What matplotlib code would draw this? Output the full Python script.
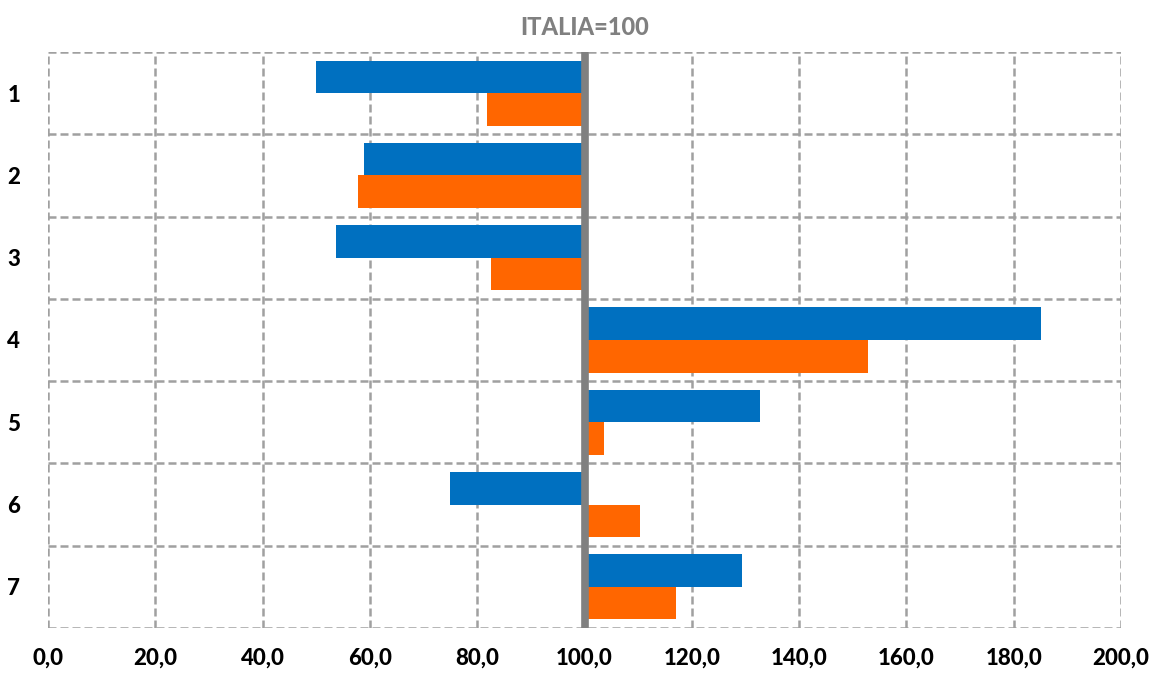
import matplotlib

matplotlib.use("Agg")
import matplotlib.pyplot as plt
import numpy as np

# values (ITALIA = 100)
categories = ["1", "2", "3", "4", "5", "6", "7"]
serie_blu = [50.0, 58.9, 53.7, 185.1, 132.7, 74.9, 129.4]
serie_arancio = [81.8, 57.8, 82.6, 152.8, 103.6, 110.3, 117.1]
xticks = np.arange(0, 201, 20)
base = 100.0

plt.rcParams["font.family"] = ["Lato", "DejaVu Sans"]

fig = plt.figure(figsize=(11.54, 6.75), dpi=100)
ax = fig.add_axes([0.0416, 0.0696, 0.9298, 0.8534])

y = np.arange(len(categories))
h = 0.395
blu = np.array(serie_blu)
ara = np.array(serie_arancio)
ax.barh(y - h / 2, blu - base, left=base, height=h, color="#0070C0", zorder=3)
ax.barh(y + h / 2, ara - base, left=base, height=h, color="#FF6600", zorder=3)

# dashed grid, including the outer frame
grid_kw = dict(color="#A0A0A0", lw=1.8, ls=(0, (3.2, 1.6)), zorder=1)
for xv in xticks:
    ax.axvline(xv, **grid_kw)
for yv in np.arange(-0.5, len(categories), 1.0):
    ax.axhline(yv, **grid_kw)

# thick grey axis at 100
ax.axvline(base, color="#808080", lw=5.5, zorder=4)

ax.set_xlim(0, 200)
ax.set_ylim(len(categories) - 0.5, -0.5)
for s in ax.spines.values():
    s.set_visible(False)

ax.set_xticks(xticks)
ax.set_xticklabels([f"{v:.1f}".replace(".", ",") for v in xticks],
                   fontsize=16, fontweight="black")
ax.set_yticks(y)
ax.set_yticklabels(categories, fontsize=16, fontweight="black")
ax.tick_params(length=0)
ax.tick_params(axis="x", pad=14)
ax.tick_params(axis="y", pad=20)

ax.set_title("ITALIA=100", fontsize=17, fontweight="black", color="#808080",
             pad=12)

fig.savefig("out.png", dpi=100)
